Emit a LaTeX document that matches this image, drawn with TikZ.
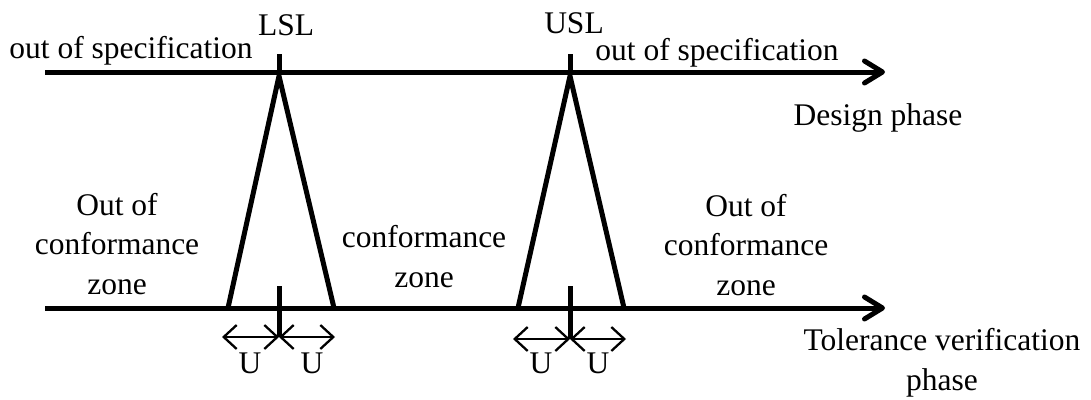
\documentclass[tikz,border=0pt]{standalone}
\usepackage{fontspec}
\setmainfont{Liberation Serif}
\usetikzlibrary{arrows.meta}
\begin{document}
\begin{tikzpicture}[x=1pt,y=-1pt,
  axis/.style={line width=5pt,-{Straight Barb[length=18pt,width=22pt,line cap=round,line join=round]}},
  thick5/.style={line width=5pt},
  tri/.style={line width=5pt,line join=miter},
  uarrow/.style={line width=2.3pt,{Straight Barb[length=13pt,width=24pt]}-{Straight Barb[length=13pt,width=24pt]}},
  lbl/.style={font=\fontsize{31.5}{39.5}\selectfont,inner sep=0pt,anchor=base,align=center}]
\useasboundingbox (0,0) rectangle (1091,399);
% coordinates
\coordinate (ts) at (45,72);
\coordinate (te) at (885,72);
\coordinate (bs) at (45,308);
\coordinate (be) at (885,308);
\coordinate (lslT) at (279,54);
\coordinate (lslA) at (279,72);
\coordinate (lslApex) at (279,76);
\coordinate (lslL) at (228,308);
\coordinate (lslR) at (334,308);
\coordinate (lslBT) at (279,286);
\coordinate (lslBB) at (279,337);
\coordinate (lslUL) at (222,337);
\coordinate (lslUR) at (335,337);
\coordinate (uslT) at (570,54);
\coordinate (uslA) at (570,72);
\coordinate (uslApex) at (570,76);
\coordinate (uslL) at (518,308);
\coordinate (uslR) at (624,308);
\coordinate (uslBT) at (570,286);
\coordinate (uslBB) at (570,339);
\coordinate (uslUL) at (513,339);
\coordinate (uslUR) at (626,339);
% axes
\draw[axis] (ts) -- (te);
\draw[axis] (bs) -- (be);
% ticks
\draw[thick5] (lslT) -- (lslA);
\draw[thick5] (uslT) -- (uslA);
\draw[thick5] (lslBT) -- (lslBB);
\draw[thick5] (uslBT) -- (uslBB);
% triangles
\draw[tri] (lslL) -- (lslApex) -- (lslR);
\draw[tri] (uslL) -- (uslApex) -- (uslR);
% U arrows
\draw[uarrow] (lslUL) -- (lslBB);
\draw[uarrow] (lslBB) -- (lslUR);
\draw[uarrow] (uslUL) -- (uslBB);
\draw[uarrow] (uslBB) -- (uslUR);
% labels (base anchor = baseline of the last line)
\node[lbl] (oos1) at (131,58) {out of specification};
\node[lbl] (lsl) at (286,35) {LSL};
\node[lbl] (usl) at (574,33) {USL};
\node[lbl] (oos2) at (717,60) {out of specification};
\node[lbl] (dp) at (878,125) {Design phase};
\node[lbl] (ooc1) at (117,294) {Out of\\conformance\\zone};
\node[lbl] (cz) at (424,287) {conformance\\zone};
\node[lbl] (ooc2) at (746,295) {Out of\\conformance\\zone};
\node[lbl] (tvp) at (942,390) {Tolerance verification\\phase};
\node[lbl] (u1) at (250,373) {U};
\node[lbl] (u2) at (312,373) {U};
\node[lbl] (u3) at (541,373) {U};
\node[lbl] (u4) at (598,373) {U};
\end{tikzpicture}
\end{document}
